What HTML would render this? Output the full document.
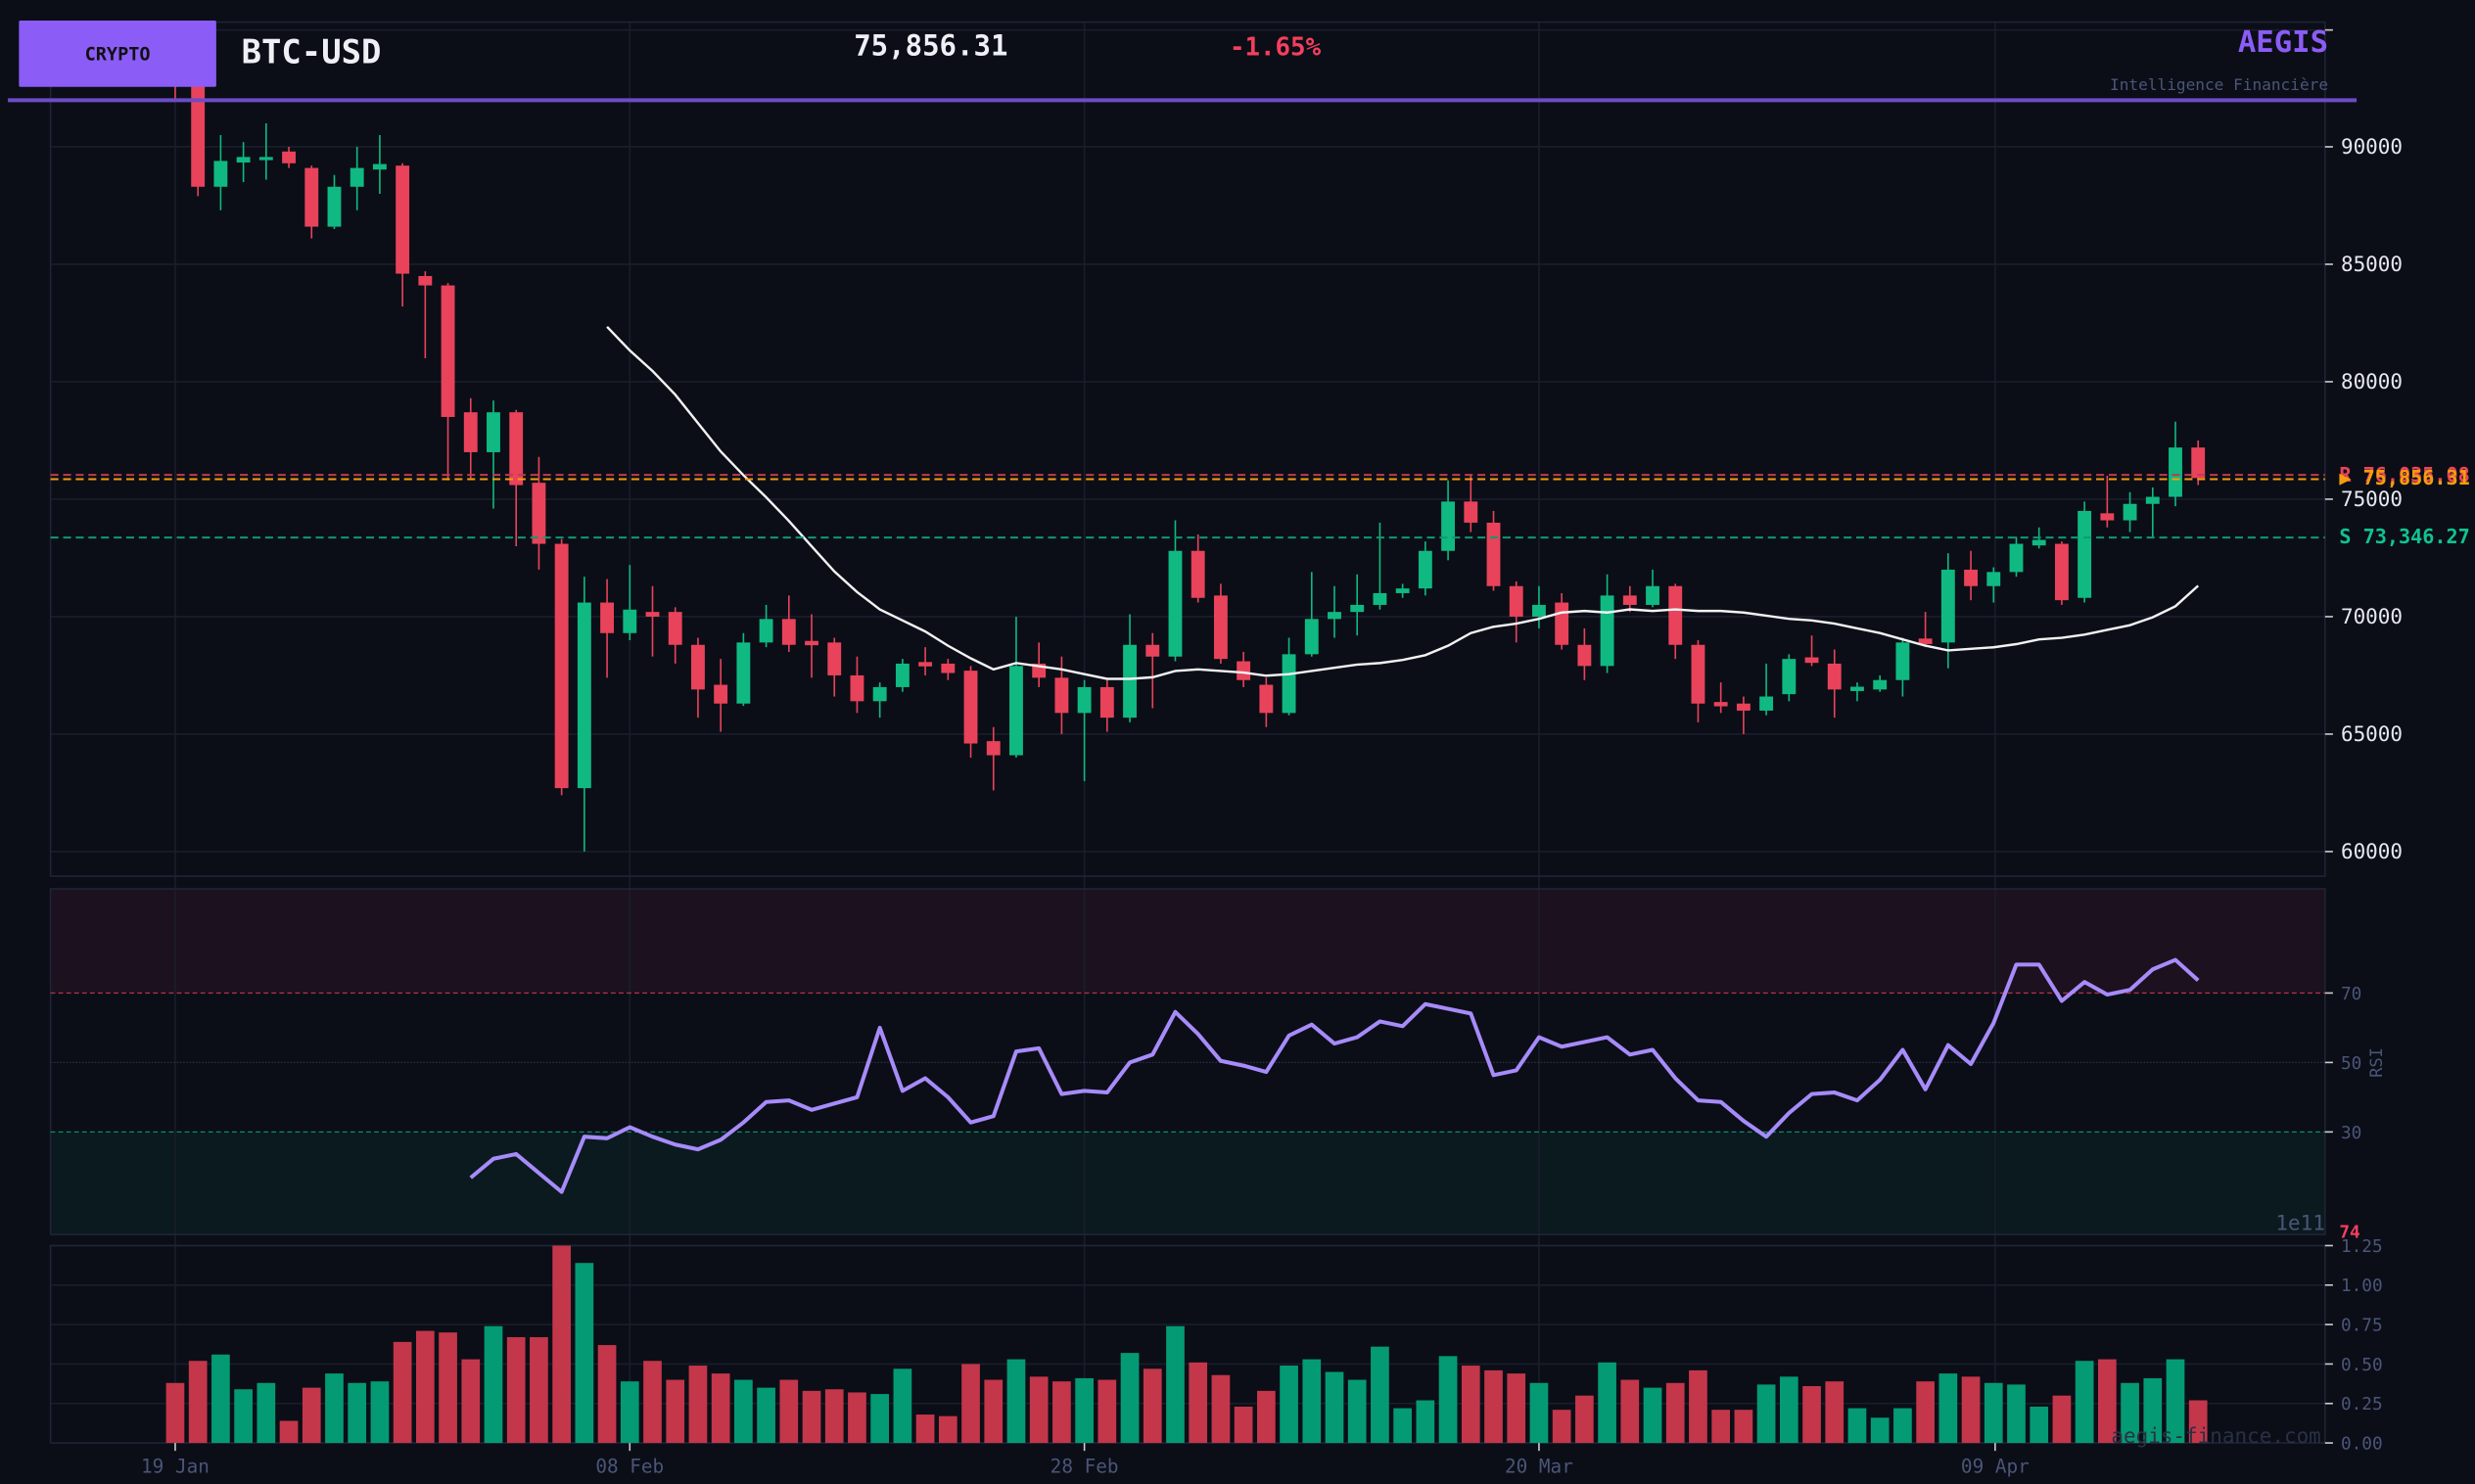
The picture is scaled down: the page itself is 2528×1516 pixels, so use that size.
<!DOCTYPE html>
<html><head><meta charset="utf-8"><style>
html,body{margin:0;padding:0;background:#0b0e17;}
svg{display:block}
text{font-family:"DejaVu Sans Mono","Liberation Mono",monospace;}
</style></head><body>
<svg id="s" width="2528" height="1516" viewBox="0 0 1568 940" preserveAspectRatio="none" xmlns="http://www.w3.org/2000/svg">
<rect width="1568" height="940" fill="#0b0e17"/>
<rect x="32" y="563" width="1441" height="66" fill="#1c111f"/>
<rect x="32" y="717" width="1441" height="65" fill="#0a1a1f"/>
<g id="grid" stroke="#1a1e2c" stroke-width="1"></g>
<rect x="32" y="14" width="1441" height="541" fill="none" stroke="#1f2436" stroke-width="1"/>
<rect x="32" y="563" width="1441" height="219" fill="none" stroke="#1f2436" stroke-width="1"/>
<rect x="32" y="789" width="1441" height="125" fill="none" stroke="#1f2436" stroke-width="1"/>
<line x1="32" y1="629" x2="1473" y2="629" stroke="#a8344a" stroke-dasharray="3,2" stroke-width="0.8"/>
<line x1="32" y1="673" x2="1473" y2="673" stroke="#2a2f44" stroke-dasharray="1,1" stroke-width="0.8"/>
<line x1="32" y1="717" x2="1473" y2="717" stroke="#0f8a6a" stroke-dasharray="3,2" stroke-width="0.8"/>
<g id="vol"></g>
<g id="candles"></g>
<polyline id="ma" fill="none" stroke="#f2f2f2" stroke-width="1.5"/>
<polyline id="rsi" fill="none" stroke="#a78bfa" stroke-width="2.5" stroke-linejoin="round"/>
<line x1="32" y1="300.8" x2="1473" y2="300.8" stroke="#c23a50" stroke-dasharray="5,3" stroke-width="1.2"/>
<line x1="32" y1="303.5" x2="1473" y2="303.5" stroke="#f59e0b" stroke-dasharray="5,3" stroke-width="1.2"/>
<line x1="32" y1="340.5" x2="1473" y2="340.5" stroke="#0f9a74" stroke-dasharray="5,3" stroke-width="1.2"/>
<g id="ticks" fill="#e6e8ee" font-size="13"></g>
<rect x="0" y="0" width="1568" height="12" fill="#0b0e17"/>
<line x1="111" y1="50" x2="111" y2="63" stroke="#e8435a" stroke-width="1"/>
<rect x="12" y="13" width="125" height="42" fill="#8b5cf6" rx="1"/>
<text x="74.5" y="38" text-anchor="middle" font-size="11.5" font-weight="bold" fill="#111">CRYPTO</text>
<text x="153" y="40" font-size="21" font-weight="bold" fill="#eef0f5">BTC-USD</text>
<text x="541" y="35" font-size="18" font-weight="bold" fill="#eef0f5">75,856.31</text>
<text x="779" y="35" font-size="16" fill="#f43f5e" font-weight="bold">-1.65%</text>
<text x="1475" y="33" text-anchor="end" font-size="19" font-weight="bold" fill="#8b5cf6">AEGIS</text>
<text x="1475" y="57" text-anchor="end" font-size="10" fill="#4b5578">Intelligence Financière</text>
<line x1="5" y1="63.5" x2="1493" y2="63.5" stroke="#6d4bc8" stroke-width="2.5"/>
<text x="1482" y="305" font-size="12.5" font-weight="bold" fill="#e8435a">R  76,035.08</text>
<text x="1482" y="307" font-size="12.5" font-weight="bold" fill="#f59e0b">▶ 75,856.31</text>
<text x="1482" y="344" font-size="12.5" font-weight="bold" fill="#10c48e">S  73,346.27</text>
<text x="1473" y="779" text-anchor="end" font-size="13" fill="#4b5578">1e11</text>
<text x="1482" y="784" font-size="11" font-weight="bold" fill="#f43f5e">74</text>
<text x="1509" y="673" font-size="10.5" fill="#4b5578" text-anchor="middle" transform="rotate(-90 1509 673)">RSI</text>
<text x="1404" y="914" text-anchor="middle" font-size="13" fill="#2a3045">aegis-finance.com</text>
</svg>
<script>
var NS="http://www.w3.org/2000/svg";
function el(p,t,a,txt){var e=document.createElementNS(NS,t);for(var k in a)e.setAttribute(k,a[k]);if(txt!=null)e.textContent=txt;document.getElementById(p).appendChild(e);return e;}
function py(p){return 93+(90000-p)*0.01488;}
function X(i){return 111+14.4*i;}
[111,399,687,975,1264].forEach(function(x){el('grid','line',{x1:x,y1:14,x2:x,y2:914});});
[90000,85000,80000,75000,70000,65000,60000].forEach(function(p){el('grid','line',{x1:32,y1:py(p),x2:1473,y2:py(p)});});
[0.25,0.5,0.75,1.0,1.25].forEach(function(v){var y=914-v*100;el('grid','line',{x1:32,y1:y,x2:1473,y2:y});});
el('grid','line',{x1:32,y1:19,x2:1473,y2:19});
[90000,85000,80000,75000,70000,65000,60000].forEach(function(p){var y=py(p);el('ticks','line',{x1:1473,y1:y,x2:1478,y2:y,stroke:'#ccc'});el('ticks','text',{x:1483,y:y+4.5},String(p));});
el('ticks','line',{x1:1473,y1:19,x2:1478,y2:19,stroke:'#ccc'});
[[70,629],[50,673],[30,717]].forEach(function(a){el('ticks','line',{x1:1473,y1:a[1],x2:1478,y2:a[1],stroke:'#ccc'});el('ticks','text',{x:1483,y:a[1]+4,'font-size':11,fill:'#4b5578'},String(a[0]));});
[0,0.25,0.5,0.75,1.0,1.25].forEach(function(v){var y=914-v*100;el('ticks','line',{x1:1473,y1:y,x2:1478,y2:y,stroke:'#ccc'});el('ticks','text',{x:1483,y:y+4,'font-size':11,fill:'#4b5578'},v.toFixed(2));});
[['19 Jan',111],['08 Feb',399],['28 Feb',687],['20 Mar',975],['09 Apr',1264]].forEach(function(a){el('ticks','line',{x1:a[1],y1:914,x2:a[1],y2:919,stroke:'#ccc'});el('ticks','text',{x:a[1],y:933,'font-size':12,fill:'#4b5578','text-anchor':'middle'},a[0]);});
var C=[[96000,94000,97000,93500],[95000,88300,95000,87900],[88300,89400,90500,87300],[89400,89500,90200,88500],[89500,89500,91000,88600],[89800,89300,90000,89100],[89100,86600,89200,86100],[86600,88300,88800,86500],[88300,89100,90000,87300],[89100,89200,90500,88000],[89200,84600,89300,83200],[84500,84100,84700,81000],[84100,78500,84200,75800],[78700,77000,79300,75900],[77000,78700,79200,74600],[78700,75600,78800,73000],[75700,73100,76800,72000],[73100,62700,73300,62400],[62700,70600,71700,60000],[70600,69300,71600,67400],[69300,70300,72200,69000],[70200,70000,71300,68300],[70200,68800,70400,68000],[68800,66900,69100,65700],[67100,66300,68200,65100],[66300,68900,69300,66200],[68900,69900,70500,68700],[69900,68800,70900,68500],[68900,68850,70100,67400],[68900,67500,69100,66600],[67500,66400,68300,65900],[66400,67000,67200,65700],[67000,68000,68200,66800],[68000,67950,68700,67500],[68000,67600,68200,67300],[67700,64600,67900,64000],[64700,64100,65300,62600],[64100,67900,70000,64000],[68000,67400,68900,67000],[67400,65900,68300,65000],[65900,67000,67300,63000],[67000,65700,67300,65100],[65700,68800,70100,65500],[68800,68300,69300,66100],[68300,72800,74100,68100],[72800,70800,73500,70600],[70900,68200,71400,68000],[68100,67300,68500,67000],[67100,65900,67400,65300],[65900,68400,69100,65800],[68400,69900,71900,68300],[69900,70200,71300,69100],[70200,70500,71800,69200],[70500,71000,74000,70300],[71000,71200,71400,70800],[71200,72800,73200,70900],[72800,74900,75800,72400],[74900,74000,76000,73600],[74000,71300,74500,71100],[71300,70000,71500,68900],[70000,70500,71300,69500],[70600,68800,71000,68600],[68800,67900,69500,67300],[67900,70900,71800,67600],[70900,70500,71300,70200],[70500,71300,72000,70400],[71300,68800,71400,68200],[68800,66300,69000,65500],[66300,66250,67200,65900],[66300,66000,66600,65000],[66000,66600,68000,65800],[66700,68200,68400,66400],[68200,68100,69200,67900],[68000,66900,68600,65700],[66900,66950,67200,66400],[66900,67300,67500,66800],[67300,68900,69100,66600],[69000,68900,70200,68700],[68900,72000,72700,67800],[72000,71300,72800,70700],[71300,71900,72100,70600],[71900,73100,73400,71700],[73100,73200,73800,72900],[73100,70700,73200,70500],[70800,74500,74900,70600],[74400,74100,76000,73800],[74100,74800,75300,73600],[74800,75100,75500,73400],[75100,77200,78300,74700],[77200,75900,77500,75600]];
var clip=el('candles','clipPath',{id:'cp'});var r=document.createElementNS(NS,'rect');r.setAttribute('x',32);r.setAttribute('y',19);r.setAttribute('width',1441);r.setAttribute('height',536);clip.appendChild(r);
var g=el('candles','g',{'clip-path':'url(#cp)'});g.id='cg';
C.forEach(function(c,i){var x=X(i),up=c[1]>=c[0],col=up?'#10b981':'#e8435a';
el('cg','line',{x1:x,y1:py(c[2]),x2:x,y2:py(c[3]),stroke:col,'stroke-width':1});
var t=py(Math.max(c[0],c[1])),b=py(Math.min(c[0],c[1]));if(b-t<2){t-=1;b+=1;}
el('cg','rect',{x:x-4.3,y:t,width:8.6,height:b-t,fill:col});});
var V=[.38,.52,.56,.34,.38,.14,.35,.44,.38,.39,.64,.71,.70,.53,.74,.67,.67,1.25,1.14,.62,.39,.52,.40,.49,.44,.40,.35,.40,.33,.34,.32,.31,.47,.18,.17,.50,.40,.53,.42,.39,.41,.40,.57,.47,.74,.51,.43,.23,.33,.49,.53,.45,.40,.61,.22,.27,.55,.49,.46,.44,.38,.21,.30,.51,.40,.35,.38,.46,.21,.21,.37,.42,.36,.39,.22,.16,.22,.39,.44,.42,.38,.37,.23,.30,.52,.53,.38,.41,.53,.27];
V.forEach(function(v,i){var up=C[i][1]>=C[i][0];el('vol','rect',{x:X(i)-5.8,y:914-v*100,width:11.6,height:v*100,fill:up?'#049a74':'#c4364a'});});
var R=[746,734,731,743,755,720,721,714,720,725,728,722,711,698,697,703,699,695,651,691,683,695,711,707,666,664,693,691,692,673,668,641,655,672,675,679,656,649,661,657,647,650,636,639,642,681,678,657,663,660,657,668,665,683,697,698,710,720,705,693,692,697,684,665,690,662,674,648,611,611,634,622,630,627,614,608,621];
document.getElementById('rsi').setAttribute('points',R.map(function(y,k){return X(13+k).toFixed(1)+','+y;}).join(' '));
var M=[207,222,235,250,268,286,301,315,330,346,362,375,386,393,400,409,417,424,420,422,424,427,430,430,429,425,424,425,426,428,427,425,423,421,420,418,415,409,401,397,395,392,388,387,388,386,387,386,387,387,388,390,392,393,395,398,401,405,409,412,411,410,408,405,404,402,399,396,391,384,371];
document.getElementById('ma').setAttribute('points',M.map(function(y,k){return X(19+k).toFixed(1)+','+y;}).join(' '));
</script>
</body></html>
